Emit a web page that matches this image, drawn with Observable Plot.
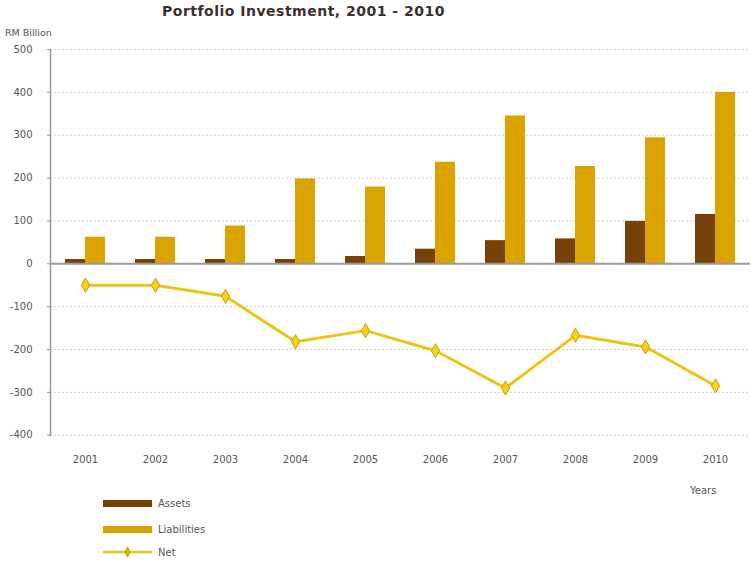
<!DOCTYPE html>
<html>
<head>
<meta charset="utf-8">
<script src="https://cdn.jsdelivr.net/npm/d3@7"></script>
<script src="https://cdn.jsdelivr.net/npm/@observablehq/plot@0.6"></script>
<style>
  html, body { margin: 0; padding: 0; background: #fff; }
  #wrap { position: relative; width: 751px; height: 562px; font-family: "DejaVu Sans", sans-serif; }
  #chart { position: absolute; left: 0; top: 0; }
  .txt { position: absolute; white-space: nowrap; color: #444; }
  #title { left: 162px; top: 3px; font-size: 14px; letter-spacing: 0.5px; font-weight: bold; color: #3b3030; }
  #unit { left: 5px; top: 27px; font-size: 9.5px; color: #555; }
  #xlabel { left: 690px; top: 485px; font-size: 10px; color: #555; }
  .leg { position: absolute; left: 103px; height: 14px; display: flex; align-items: center; font-size: 10px; color: #555; }
  .sw { width: 49px; height: 7px; margin-right: 6px; }
</style>
</head>
<body>
<div id="wrap">
  <div id="chart"></div>
  <div id="title" class="txt"></div>
  <div id="unit" class="txt"></div>
  <div id="xlabel" class="txt"></div>
  <div id="legend"></div>
</div>
<script>
const title = "Portfolio Investment, 2001 - 2010";
const unitLabel = "RM Billion";
const xAxisLabel = "Years";
const years = ["2001","2002","2003","2004","2005","2006","2007","2008","2009","2010"];
const assets = [10, 10, 10, 10, 17, 34, 54, 58, 99, 115];
const liabilities = [62, 62, 88, 198, 179, 237, 345, 227, 294, 400];
const net = [-50, -50, -76, -182, -156, -203, -290, -167, -194, -285];
const yTicks = [500, 400, 300, 200, 100, 0, -100, -200, -300, -400];
const seriesNames = ["Assets", "Liabilities", "Net"];
const colors = {Assets: "#77410A", Liabilities: "#DBA300", Net: "#EFC41A"};

const rows = years.map((year, i) => ({year, assets: assets[i], liabilities: liabilities[i], net: net[i]}));

const font = "DejaVu Sans, sans-serif";
const chart = Plot.plot({
  width: 751,
  height: 562,
  marginLeft: 50,
  marginRight: 1,
  marginTop: 49,
  marginBottom: 127.3,
  style: {fontFamily: font, background: "transparent"},
  x: {type: "band", domain: years, padding: 0, label: null},
  y: {domain: [-400, 500], label: null},
  marks: [
    Plot.ruleY(yTicks.filter(d => d !== 0), {stroke: "#cfcfcf", strokeDasharray: "2,2", strokeWidth: 1}),
    Plot.barY(rows, {x: "year", y: "assets", fill: colors.Assets, insetLeft: 15, insetRight: 35}),
    Plot.barY(rows, {x: "year", y: "liabilities", fill: colors.Liabilities, insetLeft: 35, insetRight: 15}),
    Plot.ruleY([0], {stroke: "#9a9a9a", strokeWidth: 2}),
    Plot.frame({anchor: "left", stroke: "#9a9a9a", strokeWidth: 1.5}),
    Plot.axisY({ticks: yTicks, tickSize: 3, tickPadding: 15, fontSize: 10, fill: "#555", stroke: "#9a9a9a", tickFormat: d => String(d), label: null}),
    Plot.axisX({tickSize: 0, tickPadding: 21, fontSize: 10, fill: "#555", label: null}),
    Plot.lineY(rows, {x: "year", y: "net", stroke: colors.Net, strokeWidth: 3}),
    Plot.dot(rows, {x: "year", y: "net", symbol: "diamond", r: 4.3, fill: "#F6D21E", stroke: "#C9A000", strokeWidth: 1})
  ]
});
document.getElementById("chart").appendChild(chart);

document.getElementById("title").textContent = title;
document.getElementById("unit").textContent = unitLabel;
document.getElementById("xlabel").textContent = xAxisLabel;

const legendTops = [496, 522, 545];
const legend = document.getElementById("legend");
seriesNames.forEach((name, i) => {
  const item = document.createElement("div");
  item.className = "leg";
  item.style.top = legendTops[i] + "px";
  if (name === "Net") {
    const svgNS = "http://www.w3.org/2000/svg";
    const s = document.createElementNS(svgNS, "svg");
    s.setAttribute("width", 49); s.setAttribute("height", 14);
    s.style.marginRight = "6px";
    const l = document.createElementNS(svgNS, "line");
    l.setAttribute("x1", 0); l.setAttribute("x2", 49); l.setAttribute("y1", 7); l.setAttribute("y2", 7);
    l.setAttribute("stroke", colors.Net); l.setAttribute("stroke-width", 2.5);
    const p = document.createElementNS(svgNS, "path");
    p.setAttribute("d", d3.symbol(d3.symbolDiamond, 30)());
    p.setAttribute("transform", "translate(24.5,7)");
    p.setAttribute("fill", "#E0B800"); p.setAttribute("stroke", "#B89000"); p.setAttribute("stroke-width", 0.8);
    s.appendChild(l); s.appendChild(p);
    item.appendChild(s);
  } else {
    const sw = document.createElement("div");
    sw.className = "sw";
    sw.style.background = colors[name];
    item.appendChild(sw);
  }
  const t = document.createElement("span");
  t.textContent = name;
  item.appendChild(t);
  legend.appendChild(item);
});
</script>
</body>
</html>
